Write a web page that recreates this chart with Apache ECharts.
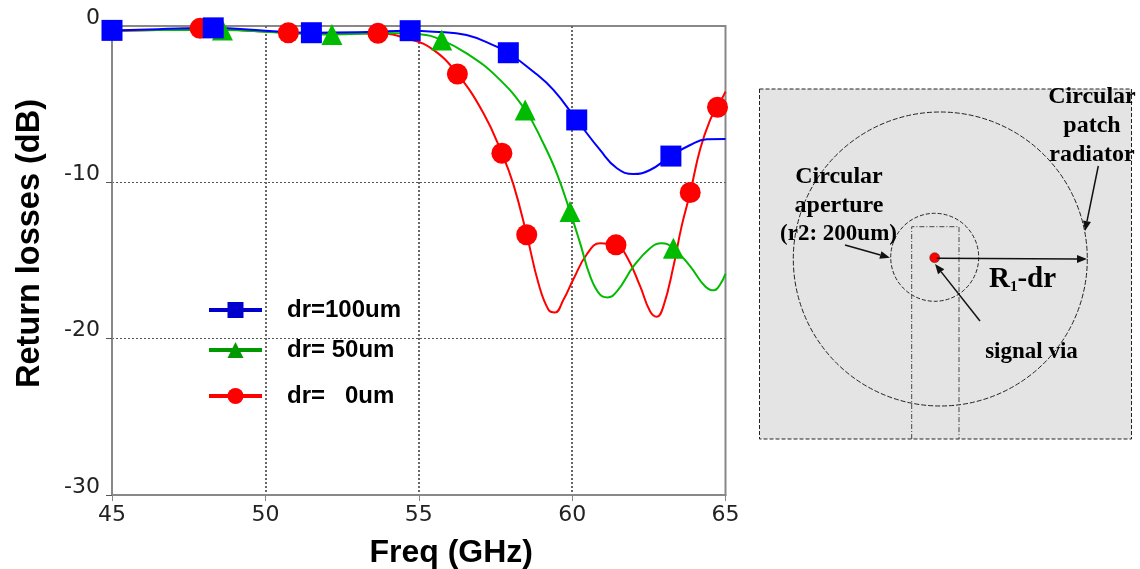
<!DOCTYPE html>
<html><head><meta charset="utf-8">
<script src="https://cdn.jsdelivr.net/npm/echarts@6/dist/echarts.min.js"></script>
<style>html,body{margin:0;padding:0;background:#fff}#c{width:1140px;height:569px}</style>
</head><body><div id="c"></div>
<script>
const seriesNames = ['dr=100um', 'dr= 50um', 'dr=   0um'];
const blueFreq = [45,46.5,48.3,50,51.5,53,54.72,55.48,56.56,57.54,57.92,58.74,59.39,60.15,60.91,61.46,62,62.54,63.22,63.85,64.39,65];
const blueLoss = [-0.28,-0.2,-0.12,-0.3,-0.43,-0.4,-0.3,-0.36,-0.58,-1.32,-1.71,-2.92,-4.09,-6.01,-7.93,-9.1,-9.47,-9.21,-8.32,-7.61,-7.25,-7.23];
const blueMarkers = [45,48.3,51.5,54.72,57.92,60.15,63.22];
const greenFreq = [45,46.5,48.6,50.3,52.17,53.8,55.04,55.75,56.56,57.54,58.47,59.06,59.5,59.93,60.26,60.59,60.91,61.15,61.46,62,62.54,62.92,63.3,63.85,64.34,64.63,64.82,65];
const greenLoss = [-0.3,-0.25,-0.25,-0.4,-0.55,-0.45,-0.53,-0.9,-1.75,-3.24,-5.37,-7.5,-9.42,-11.86,-13.89,-16.02,-17.19,-17.36,-16.98,-15.38,-14.21,-13.89,-14.21,-15.38,-16.66,-16.91,-16.55,-15.85];
const greenMarkers = [48.6,52.17,55.75,58.47,59.93,63.3];
const redFreq = [45,46.5,47.87,49.5,50.75,52,53.67,54.72,55.48,56.26,57.11,57.71,58.09,58.52,58.9,59.23,59.44,59.72,60.04,60.48,60.91,61.43,61.78,62.22,62.54,62.76,62.98,63.3,63.57,63.85,64.17,64.5,64.74,65];
const redLoss = [-0.3,-0.25,-0.15,-0.3,-0.43,-0.48,-0.47,-0.85,-1.53,-3.07,-5.58,-8.14,-10.16,-13.35,-16.44,-18.15,-18.32,-17.5,-16.2,-14.6,-13.9,-14,-14.74,-16.66,-18.25,-18.6,-17.9,-15.4,-12.8,-10.65,-7.9,-6,-5.2,-4.2];
const redMarkers = [47.87,50.75,53.67,56.26,57.71,58.52,61.43,63.85,64.74];

function curve(name, freq, loss, markers, color, symbol, size) {
  return {
    name, type: 'line', smooth: 0.45, clip: false, showSymbol: true, showAllSymbol: true,
    symbol, symbolSize: size,
    lineStyle: { color, width: 2 }, itemStyle: { color },
    data: freq.map((f, i) => ({ value: [f, loss[i]], symbol: markers.includes(f) ? symbol : 'none' })),
    animation: false
  };
}
function legendOf(name, top, color) {
  return {
    left: 202, top, itemWidth: 53, itemHeight: 20, selectedMode: false,
    data: [{ name, lineStyle: { color, width: 4 }, itemStyle: { color } }],
    textStyle: { fontFamily: 'Liberation Sans', fontWeight: 'bold', fontSize: 24, color: '#000', padding: [0, 0, 0, 20] }
  };
}
const dk = '#111';
function arrow(x1, y1, x2, y2) {
  const a = Math.atan2(y2 - y1, x2 - x1), L = 10, W = 4;
  const bx = x2 - L * Math.cos(a), by = y2 - L * Math.sin(a);
  const nx = -Math.sin(a) * W, ny = Math.cos(a) * W;
  return [
    { type: 'line', z: 10, shape: { x1, y1, x2: bx, y2: by }, style: { stroke: dk, lineWidth: 1.5 } },
    { type: 'polygon', z: 10, shape: { points: [[x2, y2], [bx + nx, by + ny], [bx - nx, by - ny]] }, style: { fill: dk } }
  ];
}
function label(text, x, y, size) {
  return { type: 'text', z: 11, x, y, style: { text, fill: '#000', align: 'center', verticalAlign: 'middle',
    font: 'bold ' + size + 'px "Liberation Serif"' } };
}
const diagram = [
  { type: 'rect', z: 5, shape: { x: 759.5, y: 89, width: 372, height: 350 }, style: { fill: '#e4e4e4', stroke: '#222', lineWidth: 1, lineDash: [4, 2] } },
  { type: 'circle', z: 6, shape: { cx: 940.3, cy: 259, r: 147 }, style: { fill: 'none', stroke: '#222', lineWidth: 1, lineDash: [5, 2] } },
  { type: 'circle', z: 6, shape: { cx: 934.7, cy: 257.3, r: 44 }, style: { fill: 'none', stroke: '#222', lineWidth: 1, lineDash: [4, 2] } },
  { type: 'polyline', z: 6, shape: { points: [[911.7, 439], [911.7, 226.7], [959, 226.7], [959, 439]] }, style: { fill: 'none', stroke: '#444', lineWidth: 1, lineDash: [5, 2, 1, 2] } },
  { type: 'circle', z: 9, shape: { cx: 934.7, cy: 257.7, r: 5 }, style: { fill: '#ff0000', stroke: '#333', lineWidth: 0.5 } },
  ...arrow(936.7, 258.3, 1087, 259),
  ...arrow(845, 245, 890, 257.7),
  ...arrow(980, 321, 935, 264),
  ...arrow(1098.3, 166, 1085, 231),
  label('Circular', 1092, 97, 24), label('patch', 1092, 126, 24), label('radiator', 1092, 155, 24),
  label('Circular', 839, 177, 24), label('aperture', 839, 206, 24), label('(r2: 200um)', 838.5, 234, 23),
  label('signal via', 1031.5, 352, 23),
  { type: 'text', z: 11, x: 989, y: 280, style: {
      text: '{a|R}{b|1}{a|-dr}', align: 'left', verticalAlign: 'middle',
      rich: { a: { font: 'bold 29px "Liberation Serif"', fill: '#000' }, b: { font: 'bold 15px "Liberation Serif"', fill: '#000', verticalAlign: 'bottom' } } } }
];
const chart = echarts.init(document.getElementById('c'));
chart.setOption({
  animation: false,
  backgroundColor: '#fff',
  grid: { left: 112, top: 26, width: 613.5, height: 469, show: true, borderColor: '#888', borderWidth: 2, backgroundColor: 'transparent', containLabel: false, outerBoundsMode: 'none' },
  legend: [legendOf(seriesNames[0], 293, '#0000cc'), legendOf(seriesNames[1], 333, '#009900'), legendOf(seriesNames[2], 379, '#ff0000')],
  xAxis: {
    type: 'value', min: 45, max: 65, interval: 5,
    name: 'Freq (GHz)', nameLocation: 'middle', nameGap: 42,
    nameTextStyle: { fontFamily: 'Liberation Sans', fontWeight: 'bold', fontSize: 32, color: '#000', padding: [0, 0, 0, 65] },
    axisLine: { show: true, onZero: false, lineStyle: { color: '#888', width: 2 } },
    axisTick: { show: true, length: 6, lineStyle: { color: '#888', width: 1 } },
    axisLabel: { fontFamily: 'DejaVu Sans', fontSize: 22, color: '#222', margin: 9 },
    splitLine: { show: true, showMinLine: false, showMaxLine: false, lineStyle: { color: '#666', width: 2, type: [2, 2] } }
  },
  yAxis: {
    type: 'value', min: -30, max: 0, interval: 10,
    name: 'Return losses (dB)', nameLocation: 'middle', nameGap: 65, nameRotate: 90,
    nameTextStyle: { fontFamily: 'Liberation Sans', fontWeight: 'bold', fontSize: 32.5, color: '#000', padding: [0, 0, 0, 34] },
    axisLine: { show: true, onZero: false, lineStyle: { color: '#888', width: 2 } },
    axisTick: { show: true, length: 6, lineStyle: { color: '#555', width: 1 } },
    axisLabel: { fontFamily: 'DejaVu Sans', fontSize: 22, color: '#222', margin: 12, verticalAlign: 'bottom', lineHeight: 16 },
    splitLine: { show: true, showMinLine: false, showMaxLine: false, lineStyle: { color: '#555', width: 1, type: [2, 2] } }
  },
  series: [
    curve(seriesNames[2], redFreq, redLoss, redMarkers, '#ff0000', 'circle', 21),
    curve(seriesNames[1], greenFreq, greenLoss, greenMarkers, '#00bb00', 'triangle', 21),
    curve(seriesNames[0], blueFreq, blueLoss, blueMarkers, '#0000ff', 'rect', 21)
  ],
  graphic: diagram
});
</script></body></html>
